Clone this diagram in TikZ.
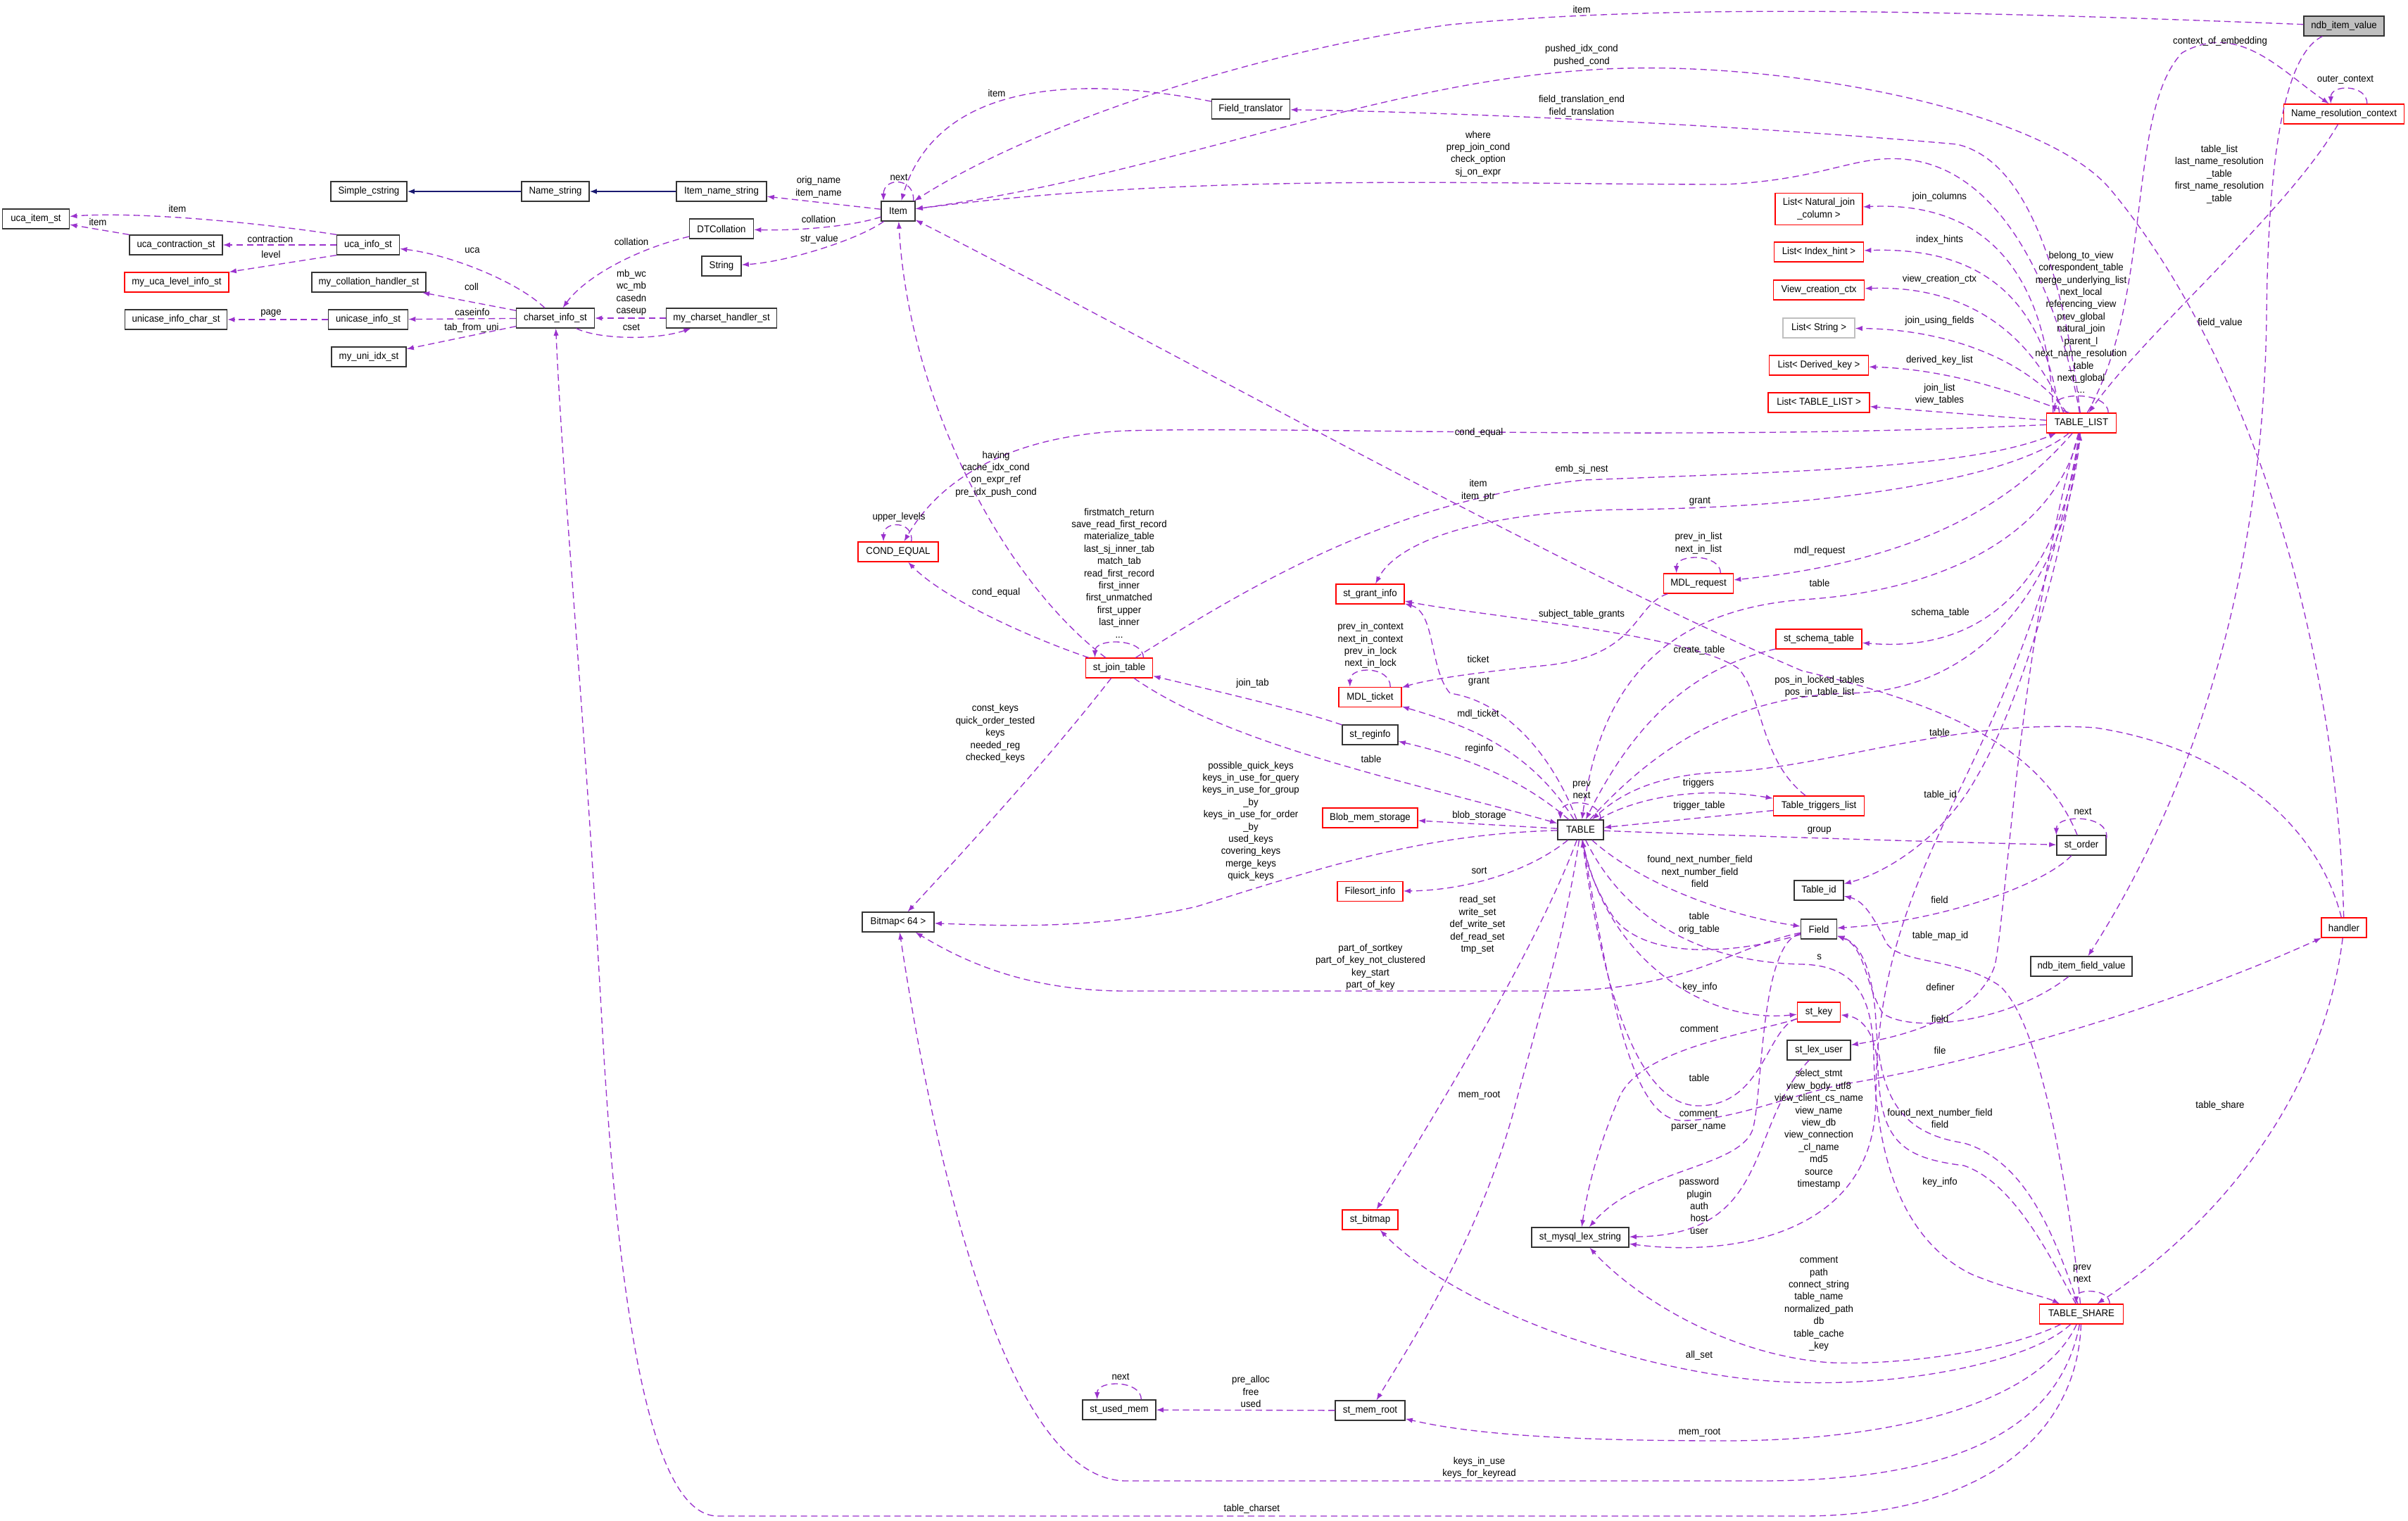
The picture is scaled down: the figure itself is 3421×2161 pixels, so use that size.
\documentclass[tikz,border=0pt]{standalone}
\usepackage{fontspec}
\setmainfont{Liberation Sans}[FakeStretch=0.94]
\usepackage{xcolor}
\usepackage{tikz}
\usetikzlibrary{arrows.meta}

\definecolor{orchid}{HTML}{9A32CD}
\definecolor{midnight}{HTML}{191970}
\definecolor{lightframe}{HTML}{BFBFBF}
\newcommand{\dgfont}{\fontsize{4}{4.95}\selectfont}

\begin{document}
\begin{tikzpicture}[x=0.01cm, y=-0.01cm, font=\dgfont,
  box/.style={draw=black!80, line width=0.35pt, fill=white, inner sep=0pt, minimum height=0.28cm, align=center},
  redbox/.style={box, draw=red},
  lbl/.style={inner sep=0pt, align=center},
  rel/.style={draw=orchid, line width=0.38pt, dash pattern=on 2.6pt off 1.6pt, -{Latex[length=2.9pt, width=2.1pt]}},
  inh/.style={draw=midnight, line width=0.45pt, -{Latex[length=2.9pt, width=2.1pt]}}]

\fill[white] (0,0) rectangle (3421,2161);
\useasboundingbox (0,0) rectangle (3421,2161);

\node[box, minimum width=1.08cm] (simplecstring) at (524,272) {Simple\_cstring};
\node[box, minimum width=0.96cm] (namestring) at (789,272) {Name\_string};
\node[box, minimum width=1.28cm] (itemnamestring) at (1025,272) {Item\_name\_string};
\node[box, minimum width=0.95cm] (ucaitem) at (51,311) {uca\_item\_st};
\node[box, minimum width=1.32cm] (ucacontr) at (250,348) {uca\_contraction\_st};
\node[box, minimum width=0.89cm] (ucainfo) at (523,348) {uca\_info\_st};
\node[redbox, minimum width=1.48cm] (ucalevel) at (251,401) {my\_uca\_level\_info\_st};
\node[box, minimum width=1.62cm] (collhandler) at (524,401) {my\_collation\_handler\_st};
\node[box, minimum width=1.45cm] (unicasechar) at (250,454) {unicase\_info\_char\_st};
\node[box, minimum width=1.13cm] (unicase) at (523,454) {unicase\_info\_st};
\node[box, minimum width=1.11cm] (charset) at (789,452) {charset\_info\_st};
\node[box, minimum width=1.06cm] (uniidx) at (524,507) {my\_uni\_idx\_st};
\node[box, minimum width=0.91cm] (dtcoll) at (1025,325) {DTCollation};
\node[box, minimum width=0.56cm] (string) at (1025,378) {String};
\node[box, minimum width=1.57cm] (cshandler) at (1025,452) {my\_charset\_handler\_st};
\node[box, minimum width=0.48cm] (item) at (1276,300) {Item};
\node[box, minimum width=1.11cm] (fieldtr) at (1777,155) {Field\_translator};
\node[redbox, minimum width=1.14cm] (condequal) at (1276,784) {COND\_EQUAL};
\node[redbox, minimum width=0.95cm] (jointab) at (1590,949) {st\_join\_table};
\node[box, minimum width=1.02cm] (bitmap) at (1276,1310) {Bitmap< 64 >};
\node[redbox, minimum width=0.97cm] (grantinfo) at (1946.5,844) {st\_grant\_info};
\node[redbox, minimum width=0.89cm] (mdlticket) at (1946.5,990.5) {MDL\_ticket};
\node[box, minimum width=0.79cm] (reginfo) at (1946.5,1044) {st\_reginfo};
\node[redbox, minimum width=1.35cm] (blob) at (1946.5,1162) {Blob\_mem\_storage};
\node[redbox, minimum width=0.93cm] (filesort) at (1946.5,1266.5) {Filesort\_info};
\node[redbox, minimum width=0.79cm] (stbitmap) at (1946.5,1733) {st\_bitmap};
\node[box, minimum width=0.99cm] (memroot) at (1946.5,2004) {st\_mem\_root};
\node[box, minimum width=1.04cm] (usedmem) at (1590,2003) {st\_used\_mem};
\node[box, minimum width=0.65cm] (table) at (2245.5,1179) {TABLE};
\node[redbox, minimum width=0.99cm] (mdlrequest) at (2413,829) {MDL\_request};
\node[box, minimum width=1.38cm] (lexstring) at (2245,1758) {st\_mysql\_lex\_string};
\node[redbox, minimum width=1.24cm, minimum height=0.45cm] (natjoin) at (2584,297) {List< Natural\_join\\\_column >};
\node[redbox, minimum width=1.27cm] (indexhint) at (2584,358) {List< Index\_hint >};
\node[redbox, minimum width=1.29cm] (viewctx) at (2584,412) {View\_creation\_ctx};
\node[box, draw=lightframe, minimum width=1.02cm] (liststring) at (2584,466) {List< String >};
\node[redbox, minimum width=1.41cm] (derivedkey) at (2584,519) {List< Derived\_key >};
\node[redbox, minimum width=1.44cm] (listtl) at (2584,572) {List< TABLE\_LIST >};
\node[redbox, minimum width=1.22cm] (schematable) at (2584,908) {st\_schema\_table};
\node[redbox, minimum width=1.29cm] (triggers) at (2584,1145) {Table\_triggers\_list};
\node[box, minimum width=0.70cm] (tableid) at (2584,1265) {Table\_id};
\node[box, minimum width=0.51cm] (field) at (2584,1320) {Field};
\node[redbox, minimum width=0.61cm] (stkey) at (2584,1438) {st\_key};
\node[box, minimum width=0.90cm] (lexuser) at (2584,1492) {st\_lex\_user};
\node[redbox, minimum width=0.99cm] (tablelist) at (2957,601) {TABLE\_LIST};
\node[box, minimum width=0.70cm] (storder) at (2957,1201) {st\_order};
\node[box, minimum width=1.44cm] (ndbfield) at (2957,1373) {ndb\_item\_field\_value};
\node[redbox, minimum width=1.19cm] (tableshare) at (2957,1867) {TABLE\_SHARE};
\node[box, fill=lightframe, minimum width=1.14cm] (ndbitem) at (3330,37) {ndb\_item\_value};
\node[redbox, minimum width=1.71cm] (nrc) at (3330,162) {Name\_resolution\_context};
\node[redbox, minimum width=0.64cm] (handler) at (3330,1318) {handler};

\draw[inh] (namestring) -- (simplecstring);
\draw[inh] (itemnamestring) -- (namestring);

\draw[rel] (ucainfo.north west) .. controls (380,318) and (200,300) .. (ucaitem);
\draw[rel] (ucacontr.north west) -- (ucaitem);
\draw[rel] (ucainfo) -- (ucacontr);
\draw[rel] (ucainfo.south west) -- (ucalevel.north east);
\draw[rel] (charset) .. controls (735,400) and (640,362) .. (ucainfo);
\draw[rel] (charset) -- (collhandler);
\draw[rel] (charset) -- (unicase);
\draw[rel] (unicase) -- (unicasechar);
\draw[rel] (charset) -- (uniidx);
\draw[rel] (dtcoll) .. controls (900,355) and (830,395) .. (charset);
\draw[rel] (cshandler) -- (charset);
\draw[rel] (charset) .. controls (850,482) and (930,484) .. (cshandler);
\draw[rel] (item) -- (itemnamestring);
\draw[rel] (item) .. controls (1210,322) and (1130,328) .. (dtcoll);
\draw[rel] (item) .. controls (1220,340) and (1120,372) .. (string);
\draw[rel] (item.34) .. controls +(2,-34) and +(0,-34) .. (item.145);
\draw[rel] (fieldtr) .. controls (1520,105) and (1330,120) .. (item);
\draw[rel] (ndbitem) .. controls (2700,12) and (2350,8) .. (2060,35) .. controls (1800,70) and (1480,170) .. (item);
\draw[rel] (handler) .. controls (3320,900) and (3190,500) .. (2999,270) .. controls (2900,150) and (2500,80) .. (2250,100) .. controls (1950,120) and (1650,250) .. (item);
\draw[rel] (tablelist) .. controls (2925,420) and (2850,250) .. (2719,228) .. controls (2640,215) and (2600,255) .. (2450,262) .. controls (2100,262) and (1700,245) .. (item);
\draw[rel] (tablelist) .. controls (2935,420) and (2890,230) .. (2780,205) .. controls (2500,180) and (2100,160) .. (fieldtr);
\draw[rel] (jointab) .. controls (1420,820) and (1290,560) .. (item);
\draw[rel] (storder) .. controls (2900,1060) and (2760,1000) .. (2560,953) .. controls (2200,800) and (1650,490) .. (item);

\draw[rel] (tablelist) .. controls (2400,628) and (1850,605) .. (1600,612) .. controls (1420,620) and (1330,690) .. (condequal);
\draw[rel] (condequal.38) .. controls +(4,-30) and +(0,-30) .. (condequal.145);
\draw[rel] (jointab) .. controls (1460,905) and (1340,850) .. (condequal);
\draw[rel] (jointab.23) .. controls +(0,-28) and +(0,-28) .. (jointab.157);
\draw[rel] (jointab) .. controls (1480,1090) and (1350,1230) .. (bitmap);
\draw[rel] (jointab) .. controls (1780,830) and (1980,710) .. (2250,682) .. controls (2550,670) and (2800,665) .. (tablelist);
\draw[rel] (jointab) .. controls (1750,1060) and (2000,1110) .. (table);
\draw[rel] (reginfo) .. controls (1850,1010) and (1720,980) .. (jointab);

\draw[rel] (table) .. controls (2160,1105) and (2080,1075) .. (reginfo);
\draw[rel] (table) .. controls (2170,1060) and (2080,1030) .. (mdlticket);
\draw[rel] (table) .. controls (2200,1060) and (2130,995) .. (2060,985) .. controls (2030,950) and (2040,870) .. (grantinfo);
\draw[rel] (mdlrequest) .. controls (2320,860) and (2330,930) .. (2200,945) .. controls (2100,955) and (2030,965) .. (mdlticket);
\draw[rel] (mdlrequest.25) .. controls +(0,-28) and +(0,-28) .. (mdlrequest.155);
\draw[rel] (mdlticket.27) .. controls +(0,-30) and +(0,-30) .. (mdlticket.153);
\draw[rel] (tablelist) .. controls (2870,700) and (2750,795) .. (mdlrequest);
\draw[rel] (tablelist) .. controls (2860,680) and (2600,722) .. (2300,724) .. controls (2100,728) and (1985,770) .. (grantinfo);
\draw[rel] (tablelist) .. controls (2920,760) and (2760,840) .. (2560,852) .. controls (2340,870) and (2270,1000) .. (table);
\draw[rel] (tablelist) .. controls (2930,800) and (2840,930) .. (schematable);
\draw[rel] (schematable) .. controls (2400,950) and (2320,1030) .. (table);
\draw[rel] (table) .. controls (2380,1030) and (2500,990) .. (2620,985) .. controls (2820,985) and (2935,820) .. (tablelist);
\draw[rel] (triggers) -- (table);
\draw[rel] (table) .. controls (2330,1130) and (2420,1118) .. (triggers);
\draw[rel] (triggers) .. controls (2500,1080) and (2505,990) .. (2470,950) .. controls (2400,900) and (2100,875) .. (grantinfo);
\draw[rel] (table.27) .. controls +(0,-30) and +(0,-30) .. (table.153);
\draw[rel] (table) -- (blob);
\draw[rel] (table) .. controls (2170,1240) and (2080,1265) .. (filesort);
\draw[rel] (table) .. controls (2020,1185) and (1880,1232) .. (1700,1288) .. controls (1550,1322) and (1420,1315) .. (bitmap);
\draw[rel] (field) .. controls (2460,1345) and (2400,1408) .. (2200,1408) -- (1600,1408) .. controls (1450,1408) and (1360,1360) .. (bitmap);
\draw[rel] (tableshare) .. controls (2925,2040) and (2760,2104) .. (2500,2104) -- (1600,2104) .. controls (1420,2104) and (1320,1600) .. (bitmap);
\draw[rel] (tableshare) .. controls (2900,1990) and (2700,2047) .. (2450,2047) .. controls (2250,2047) and (2100,2040) .. (memroot);
\draw[rel] (table) .. controls (2225,1320) and (2190,1430) .. (2150,1580) .. controls (2100,1760) and (2010,1900) .. (memroot);
\draw[rel] (memroot) -- (usedmem);
\draw[rel] (usedmem.25) .. controls +(0,-28) and +(0,-28) .. (usedmem.155);
\draw[rel] (table) .. controls (2190,1330) and (2060,1550) .. (stbitmap);
\draw[rel] (tableshare) .. controls (2880,1940) and (2650,1985) .. (2450,1955) .. controls (2250,1925) and (2050,1840) .. (stbitmap);
\draw[rel] (tableshare) .. controls (2850,1920) and (2700,1940) .. (2600,1936) .. controls (2450,1925) and (2320,1840) .. (lexstring);
\draw[rel] (tableshare) .. controls (2950,2050) and (2800,2154) .. (2560,2154) -- (1020,2154) .. controls (930,2154) and (880,1900) .. (855,1450) .. controls (830,1000) and (800,700) .. (charset);

\draw[rel] (tablelist) .. controls (2870,1100) and (2665,1200) .. (2665,1560) .. controls (2665,1760) and (2450,1785) .. (lexstring);
\draw[rel] (tablelist) .. controls (2870,900) and (2850,1300) .. (2834,1372) .. controls (2810,1440) and (2720,1470) .. (lexuser);
\draw[rel] (lexuser) .. controls (2480,1600) and (2520,1755) .. (lexstring);
\draw[rel] (stkey) .. controls (2480,1470) and (2330,1490) .. (2300,1560) .. controls (2270,1630) and (2255,1690) .. (lexstring);
\draw[rel] (field) .. controls (2500,1340) and (2505,1550) .. (2490,1605) .. controls (2470,1660) and (2330,1660) .. (lexstring);
\draw[rel] (stkey) .. controls (2510,1460) and (2505,1571) .. (2413,1571) .. controls (2330,1571) and (2280,1420) .. (table);
\draw[rel] (table) .. controls (2290,1430) and (2320,1592) .. (2390,1592) .. controls (2470,1592) and (2560,1548) .. (2640,1537) .. controls (2900,1490) and (3150,1400) .. (handler);
\draw[rel] (table) .. controls (2330,1255) and (2450,1300) .. (field);
\draw[rel] (field) .. controls (2450,1360) and (2330,1360) .. (2290,1300) .. controls (2265,1260) and (2255,1230) .. (table);
\draw[rel] (table) .. controls (2280,1360) and (2420,1455) .. (stkey);
\draw[rel] (table) .. controls (2320,1330) and (2450,1368) .. (2560,1370) .. controls (2640,1372) and (2660,1420) .. (2662,1500) .. controls (2665,1640) and (2700,1760) .. (2800,1810) .. controls (2860,1835) and (2900,1840) .. (tableshare);
\draw[rel] (ndbfield) .. controls (2860,1450) and (2720,1470) .. (2675,1440) .. controls (2650,1400) and (2650,1345) .. (field);
\draw[rel] (tableshare) .. controls (2920,1760) and (2880,1650) .. (2790,1624) .. controls (2700,1610) and (2670,1560) .. (2665,1450) .. controls (2660,1370) and (2640,1340) .. (field);
\draw[rel] (tableshare) .. controls (2910,1780) and (2860,1680) .. (2790,1656) .. controls (2700,1645) and (2672,1620) .. (2668,1520) .. controls (2665,1460) and (2640,1445) .. (stkey);
\draw[rel] (tablelist) .. controls (2930,800) and (2870,1000) .. (2807,1106) .. controls (2760,1190) and (2680,1240) .. (tableid);
\draw[rel] (tableshare) .. controls (2940,1700) and (2900,1450) .. (2840,1400) .. controls (2780,1360) and (2700,1370) .. (2680,1340) .. controls (2665,1310) and (2650,1280) .. (tableid);
\draw[rel] (storder) .. controls (2900,1260) and (2750,1310) .. (field);
\draw[rel] (table) .. controls (2400,1185) and (2700,1195) .. (storder);
\draw[rel] (storder.15) .. controls +(5,-35) and +(0,-30) .. (storder.158);
\draw[rel] (tableshare.20) .. controls +(0,-22) and +(0,-22) .. (tableshare.117);
\draw[rel] (handler) .. controls (3300,1560) and (3150,1740) .. (tableshare);
\draw[rel] (handler) .. controls (3290,1160) and (3150,1060) .. (2977,1034) .. controls (2780,1020) and (2600,1090) .. (2450,1097) .. controls (2350,1100) and (2300,1130) .. (table);
\draw[rel] (ndbitem) .. controls (3240,80) and (3222,250) .. (3220,450) .. controls (3215,850) and (3100,1150) .. (ndbfield);

\draw[rel] (tablelist) .. controls (3060,420) and (3020,160) .. (3100,75) .. controls (3180,30) and (3240,100) .. (nrc);
\draw[rel] (nrc) .. controls (3250,300) and (3050,470) .. (tablelist);
\draw[rel] (nrc.24) .. controls +(0,-28) and +(0,-28) .. (nrc.142);
\draw[rel] (tablelist.21) .. controls +(0,-30) and +(0,-30) .. (tablelist.159);
\draw[rel] (tablelist.160) .. controls (2910,400) and (2830,285) .. (natjoin);
\draw[rel] (tablelist.155) .. controls (2905,440) and (2830,350) .. (indexhint);
\draw[rel] (tablelist.150) .. controls (2890,480) and (2800,405) .. (viewctx);
\draw[rel] (tablelist.145) .. controls (2890,520) and (2780,468) .. (liststring);
\draw[rel] (tablelist.140) .. controls (2880,565) and (2780,525) .. (derivedkey);
\draw[rel] (tablelist) -- (listtl);

\node[lbl] (t-item1) at (252,296) {item};
\node[lbl] (t-item2) at (139,315) {item};
\node[lbl] (t-contr) at (384,339) {contraction};
\node[lbl] (t-level) at (385,361) {level};
\node[lbl] (t-uca) at (671,356) {uca};
\node[lbl] (t-coll) at (670,407) {coll};
\node[lbl] (t-caseinfo) at (671,443) {caseinfo};
\node[lbl] (t-page) at (385,445) {page};
\node[lbl] (t-tabfromuni) at (670,466) {tab\_from\_uni};
\node[lbl] (t-collation1) at (897,343) {collation};
\node[lbl] (t-mbwc) at (897,416) {mb\_wc\\wc\_mb\\casedn\\caseup};
\node[lbl] (t-cset) at (897,465) {cset};
\node[lbl] (t-origname) at (1163,266) {orig\_name\\item\_name};
\node[lbl] (t-collation2) at (1163,311) {collation};
\node[lbl] (t-strvalue) at (1164,340) {str\_value};
\node[lbl] (t-itemnext) at (1277,252) {next};
\node[lbl] (t-item3) at (1416,132) {item};
\node[lbl] (t-item4) at (2247,13) {item};
\node[lbl] (t-pushed) at (2247,79) {pushed\_idx\_cond\\pushed\_cond};
\node[lbl] (t-fieldtransl) at (2247,151) {field\_translation\_end\\field\_translation};
\node[lbl] (t-where) at (2100,218.5) {where\\prep\_join\_cond\\check\_option\\sj\_on\_expr};
\node[lbl] (t-having) at (1415,673.5) {having\\cache\_idx\_cond\\on\_expr\_ref\\pre\_idx\_push\_cond};
\node[lbl] (t-condequal1) at (2101,615) {cond\_equal};
\node[lbl] (t-embsj) at (2247,667) {emb\_sj\_nest};
\node[lbl] (t-itemptr) at (2100,697) {item\\item\_ptr};
\node[lbl] (t-grant1) at (2415,712) {grant};
\node[lbl] (t-upper) at (1277,735) {upper\_levels};
\node[lbl] (t-condequal2) at (1415,842) {cond\_equal};
\node[lbl] (t-joinself) at (1590,814) {firstmatch\_return\\save\_read\_first\_record\\materialize\_table\\last\_sj\_inner\_tab\\match\_tab\\read\_first\_record\\first\_inner\\first\_unmatched\\first\_upper\\last\_inner\\...};
\node[lbl] (t-constkeys) at (1414,1042) {const\_keys\\quick\_order\_tested\\keys\\needed\_reg\\checked\_keys};
\node[lbl] (t-joincols) at (2755.5,280) {join\_columns};
\node[lbl] (t-indexhints) at (2755.5,341) {index\_hints};
\node[lbl] (t-viewctx) at (2755.5,397) {view\_creation\_ctx};
\node[lbl] (t-joinusing) at (2755.5,456) {join\_using\_fields};
\node[lbl] (t-derived) at (2755.5,512) {derived\_key\_list};
\node[lbl] (t-joinlist) at (2755.5,560.5) {join\_list\\view\_tables};
\node[lbl] (t-tlself) at (2956.5,458) {belong\_to\_view\\correspondent\_table\\merge\_underlying\_list\\next\_local\\referencing\_view\\prev\_global\\natural\_join\\parent\_l\\next\_name\_resolution\\\_table\\next\_global\\...};
\node[lbl] (t-context) at (3154,59) {context\_of\_embedding};
\node[lbl] (t-outer) at (3332,113) {outer\_context};
\node[lbl] (t-tablelistnrc) at (3153,247.7) {table\_list\\last\_name\_resolution\\\_table\\first\_name\_resolution\\\_table};
\node[lbl] (t-fieldvalue) at (3154,459) {field\_value};
\node[lbl] (t-mdlreq) at (2585,783) {mdl\_request};
\node[lbl] (t-table1) at (2585,828.5) {table};
\node[lbl] (t-schema) at (2756.6,871) {schema\_table};
\node[lbl] (t-posin) at (2585,975.5) {pos\_in\_locked\_tables\\pos\_in\_table\_list};
\node[lbl] (t-table2) at (2755.5,1040) {table};
\node[lbl] (t-tableid) at (2756.6,1130) {table\_id};
\node[lbl] (t-ordnext) at (2959,1153) {next};
\node[lbl] (t-group) at (2584.7,1180) {group};
\node[lbl] (t-field1) at (2755.5,1278.6) {field};
\node[lbl] (t-tablemap) at (2756.6,1330) {table\_map\_id};
\node[lbl] (t-s) at (2584.7,1360) {s};
\node[lbl] (t-definer) at (2756.6,1402.5) {definer};
\node[lbl] (t-field2) at (2756,1447) {field};
\node[lbl] (t-file) at (2756,1492) {file};
\node[lbl] (t-foundnext2) at (2756,1589) {found\_next\_number\_field\\field};
\node[lbl] (t-keyinfo2) at (2756,1680) {key\_info};
\node[lbl] (t-tableshare) at (3154,1570.6) {table\_share};
\node[lbl] (t-shareself) at (2958,1809.5) {prev\\next};
\node[lbl] (t-select) at (2584,1604.5) {select\_stmt\\view\_body\_utf8\\view\_client\_cs\_name\\view\_name\\view\_db\\view\_connection\\\_cl\_name\\md5\\source\\timestamp};
\node[lbl] (t-sharestr) at (2584,1852.5) {comment\\path\\connect\_string\\table\_name\\normalized\_path\\db\\table\_cache\\\_key};
\node[lbl] (t-previnlist) at (2413,772) {prev\_in\_list\\next\_in\_list};
\node[lbl] (t-subject) at (2247,873) {subject\_table\_grants};
\node[lbl] (t-previnctx) at (1947,917) {prev\_in\_context\\next\_in\_context\\prev\_in\_lock\\next\_in\_lock};
\node[lbl] (t-create) at (2414,924) {create\_table};
\node[lbl] (t-ticket) at (2100,936.5) {ticket};
\node[lbl] (t-jointab) at (1779.5,971) {join\_tab};
\node[lbl] (t-grant2) at (2101,968) {grant};
\node[lbl] (t-mdlticket) at (2100,1015) {mdl\_ticket};
\node[lbl] (t-reginfo) at (2101.5,1063.6) {reginfo};
\node[lbl] (t-table3) at (1948,1078.5) {table};
\node[lbl] (t-possible) at (1777,1166.7) {possible\_quick\_keys\\keys\_in\_use\_for\_query\\keys\_in\_use\_for\_group\\\_by\\keys\_in\_use\_for\_order\\\_by\\used\_keys\\covering\_keys\\merge\_keys\\quick\_keys};
\node[lbl] (t-tableself) at (2247,1122) {prev\\next};
\node[lbl] (t-triggers) at (2413,1113) {triggers};
\node[lbl] (t-trigtable) at (2414,1144.6) {trigger\_table};
\node[lbl] (t-blob) at (2101.5,1158.5) {blob\_storage};
\node[lbl] (t-foundnext1) at (2415,1238) {found\_next\_number\_field\\next\_number\_field\\field};
\node[lbl] (t-sort) at (2101.5,1236.8) {sort};
\node[lbl] (t-readset) at (2099,1314) {read\_set\\write\_set\\def\_write\_set\\def\_read\_set\\tmp\_set};
\node[lbl] (t-origtable) at (2414,1312) {table\\orig\_table};
\node[lbl] (t-partof) at (1947,1373.7) {part\_of\_sortkey\\part\_of\_key\_not\_clustered\\key\_start\\part\_of\_key};
\node[lbl] (t-keyinfo1) at (2415,1402.5) {key\_info};
\node[lbl] (t-comment1) at (2414,1462.5) {comment};
\node[lbl] (t-table4) at (2414,1531.5) {table};
\node[lbl] (t-memroot1) at (2101.5,1556) {mem\_root};
\node[lbl] (t-comment2) at (2413,1592.5) {comment\\parser\_name};
\node[lbl] (t-password) at (2414,1713.5) {password\\plugin\\auth\\host\\user};
\node[lbl] (t-allset) at (2414,1926) {all\_set};
\node[lbl] (t-usednext) at (1592,1956) {next};
\node[lbl] (t-prealloc) at (1777,1977) {pre\_alloc\\free\\used};
\node[lbl] (t-memroot2) at (2414.6,2035) {mem\_root};
\node[lbl] (t-keysinuse) at (2101.5,2085.5) {keys\_in\_use\\keys\_for\_keyread};
\node[lbl] (t-charset) at (1778.4,2144) {table\_charset};

\end{tikzpicture}
\end{document}
